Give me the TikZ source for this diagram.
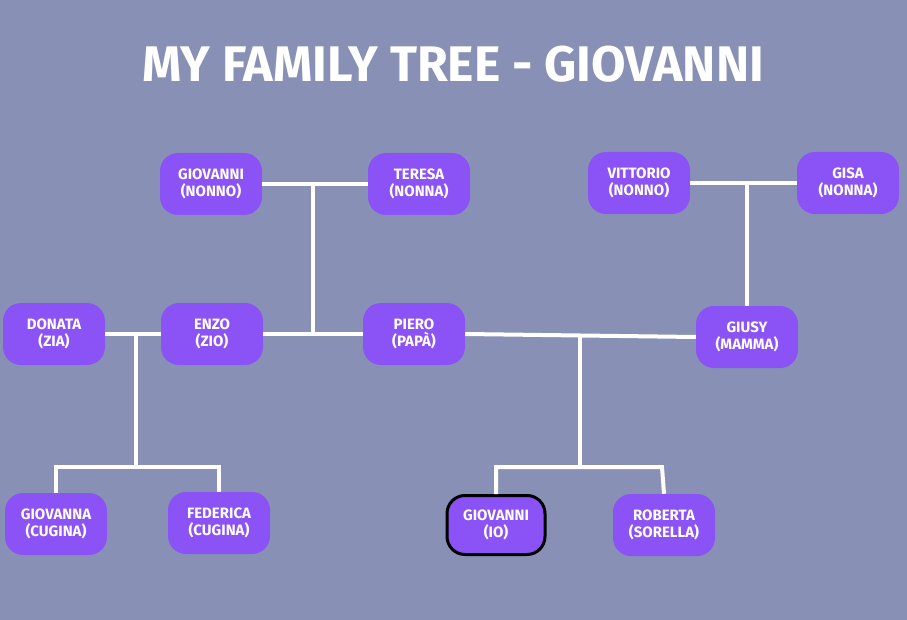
\documentclass[tikz,border=0pt]{standalone}
\usepackage{fontspec}
\setmainfont{Fira Sans}
\definecolor{bg}{RGB}{136,145,181}
\definecolor{pp}{RGB}{139,82,246}
\begin{document}
\begin{tikzpicture}[x=1pt,y=-1pt,
  person/.style={fill=pp,rounded corners=18pt,minimum width=102pt,minimum height=62pt,text=white,font=\bfseries\fontsize{15}{17}\selectfont,align=center,inner sep=1pt},
  link/.style={white,line width=4pt}]
\fill[bg] (0,0) rectangle (907,620);
\useasboundingbox (0,0) rectangle (907,620);
\node[text=white,font=\bfseries\fontsize{50}{52}\selectfont] (title) at (453,64) {MY FAMILY TREE - GIOVANNI};
\node[person] (gn) at (211,184) {GIOVANNI\\(NONNO)};
\node[person] (te) at (419,184) {TERESA\\(NONNA)};
\node[person] (vi) at (639,183) {VITTORIO\\(NONNO)};
\node[person] (gi) at (848,183) {GISA\\(NONNA)};
\node[person] (do) at (54,334) {DONATA\\(ZIA)};
\node[person] (en) at (212,334) {ENZO\\(ZIO)};
\node[person] (pi) at (414,334) {PIERO\\(PAPÀ)};
\node[person] (gu) at (747,337) {GIUSY\\(MAMMA)};
\node[person] (ga) at (56,524) {GIOVANNA\\(CUGINA)};
\node[person] (fe) at (219,523) {FEDERICA\\(CUGINA)};
\node[person,draw=black,line width=3pt,minimum width=98pt,minimum height=59pt] (io) at (496,525) {GIOVANNI\\(IO)};
\node[person] (ro) at (664,525) {ROBERTA\\(SORELLA)};
\coordinate (c1) at (313,184);
\coordinate (c2) at (747,183);
\coordinate (c3) at (136,334);
\coordinate (c4) at (580,336);
\draw[link] (gn) -- (te);
\draw[link] (c1) -- (313,334);
\draw[link] (en) -- (pi);
\draw[link] (vi) -- (gi);
\draw[link] (c2) -- (gu.north);
\draw[link] (do) -- (en);
\draw[link] (c3) -- (136,467);
\draw[link] (ga.north) -- (56,467) -- (219,467) -- (fe.north);
\draw[link] (pi.east) -- (gu.west);
\draw[link] (c4) -- (580,467);
\draw[link] (io.north) -- (496,467) -- (662,467) -- (ro.north);
\end{tikzpicture}
\end{document}
